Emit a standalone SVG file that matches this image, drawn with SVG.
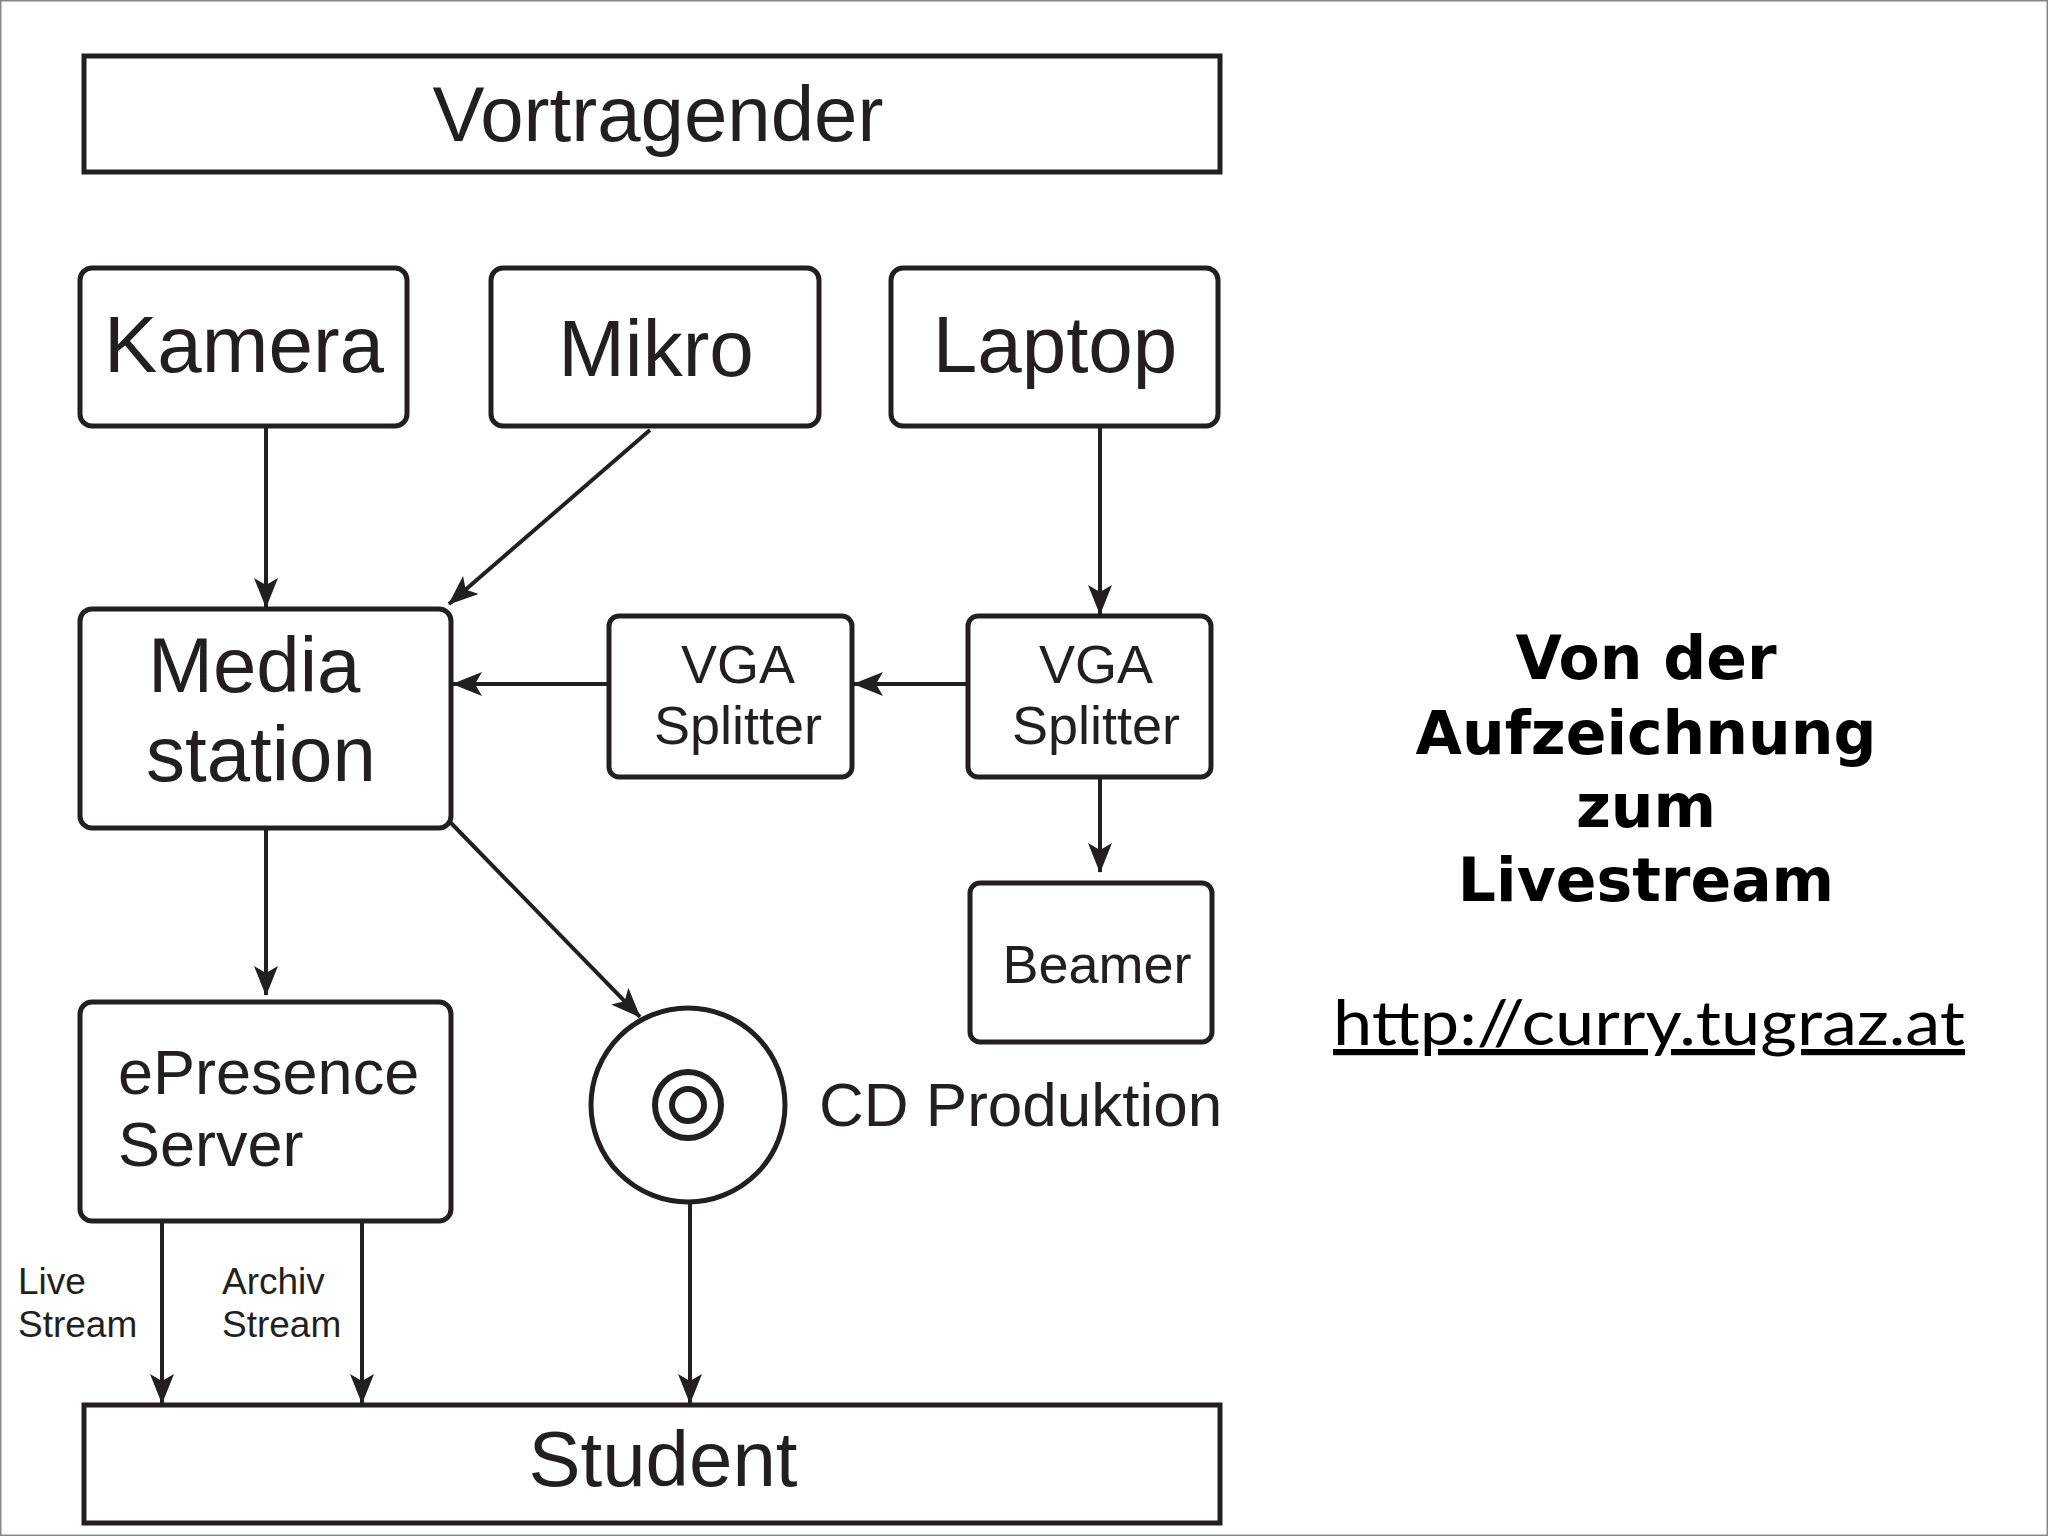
<svg xmlns="http://www.w3.org/2000/svg" width="2048" height="1536" viewBox="0 0 2048 1536">
<style>
.b{fill:#fff;stroke:#231f20;stroke-width:5}
.t{font-family:"Liberation Sans",Arial,sans-serif;fill:#231f20}
</style>
<defs>
<marker id="m" viewBox="0 0 30 24" refX="29" refY="12" markerWidth="30" markerHeight="24" orient="auto" markerUnits="userSpaceOnUse"><path d="M0,0 L30,12 L0,24 L7,12 z" fill="#231f20"/></marker></defs>
<rect x="0.5" y="0.5" width="2047" height="1535" fill="#fff" stroke="#888" stroke-width="2"/>
<g id="connectors" stroke="#231f20" stroke-width="4" fill="none" marker-end="url(#m)">
<line x1="266" y1="428" x2="266" y2="607"/>
<line x1="650" y1="430" x2="449" y2="604"/>
<line x1="1100" y1="428" x2="1100" y2="614"/>
<line x1="968" y1="684" x2="854" y2="684"/>
<line x1="609" y1="684" x2="453" y2="684"/>
<line x1="1100" y1="779" x2="1100" y2="872"/>
<line x1="266" y1="830" x2="266" y2="995"/>
<line x1="451" y1="823" x2="640" y2="1017"/>
<line x1="162" y1="1223" x2="162" y2="1403"/>
<line x1="362" y1="1223" x2="362" y2="1403"/>
<line x1="690" y1="1202" x2="690" y2="1403"/>
</g>
<g id="vortragender"><rect class="b" x="84" y="56" width="1136" height="116"/><text class="t" x="658" y="141" font-size="78" text-anchor="middle">Vortragender</text></g>
<g id="kamera"><rect class="b" x="80" y="268" width="327" height="158" rx="12"/><text class="t" x="244" y="372" font-size="80" text-anchor="middle">Kamera</text></g>
<g id="mikro"><rect class="b" x="491" y="268" width="328" height="158" rx="12"/><text class="t" x="656" y="376" font-size="80" text-anchor="middle">Mikro</text></g>
<g id="laptop"><rect class="b" x="891" y="268" width="327" height="158" rx="12"/><text class="t" x="1055" y="372" font-size="80" text-anchor="middle">Laptop</text></g>
<g id="media"><rect class="b" x="80" y="609" width="371" height="219" rx="12"/><text class="t" x="148" y="692" font-size="78">Media</text><text class="t" x="146" y="781" font-size="78">station</text></g>
<g id="vga1"><rect class="b" x="609" y="616" width="243" height="161" rx="10"/><text class="t" x="738" y="683" font-size="54" text-anchor="middle">VGA</text><text class="t" x="738" y="744" font-size="54" text-anchor="middle">Splitter</text></g>
<g id="vga2"><rect class="b" x="968" y="616" width="243" height="161" rx="10"/><text class="t" x="1096" y="683" font-size="54" text-anchor="middle">VGA</text><text class="t" x="1096" y="744" font-size="54" text-anchor="middle">Splitter</text></g>
<g id="beamer"><rect class="b" x="970" y="883" width="242" height="159" rx="10"/><text class="t" x="1097" y="983" font-size="54" text-anchor="middle">Beamer</text></g>
<g id="epresence"><rect class="b" x="80" y="1002" width="371" height="219" rx="12"/><text class="t" x="118" y="1094" font-size="63">ePresence</text><text class="t" x="118" y="1166" font-size="63">Server</text></g>
<g id="cd"><circle class="b" cx="688" cy="1105" r="97"/><circle cx="688" cy="1105" r="33" fill="none" stroke="#231f20" stroke-width="6"/><circle cx="688" cy="1105" r="16" fill="none" stroke="#231f20" stroke-width="6"/><text class="t" x="819" y="1126" font-size="62">CD Produktion</text></g>
<g id="student"><rect class="b" x="84" y="1405" width="1136" height="118"/><text class="t" x="663" y="1486" font-size="78" text-anchor="middle">Student</text></g>
<g id="labels"><text class="t" x="18" y="1294" font-size="37">Live</text><text class="t" x="18" y="1337" font-size="37">Stream</text><text class="t" x="222" y="1294" font-size="37">Archiv</text><text class="t" x="222" y="1337" font-size="37">Stream</text></g>
<g id="title" font-family="'DejaVu Sans',Verdana,sans-serif" font-weight="bold" font-size="60" text-anchor="middle" fill="#000"><text x="1646" y="679">Von der</text><text x="1646" y="754">Aufzeichnung</text><text x="1646" y="827">zum</text><text x="1646" y="901">Livestream</text></g>
<text x="1333" y="1045" font-family="Lato,'Open Sans',sans-serif" font-size="62" fill="#000" textLength="632" lengthAdjust="spacingAndGlyphs" text-decoration="underline">http://curry.tugraz.at</text>
</svg>
